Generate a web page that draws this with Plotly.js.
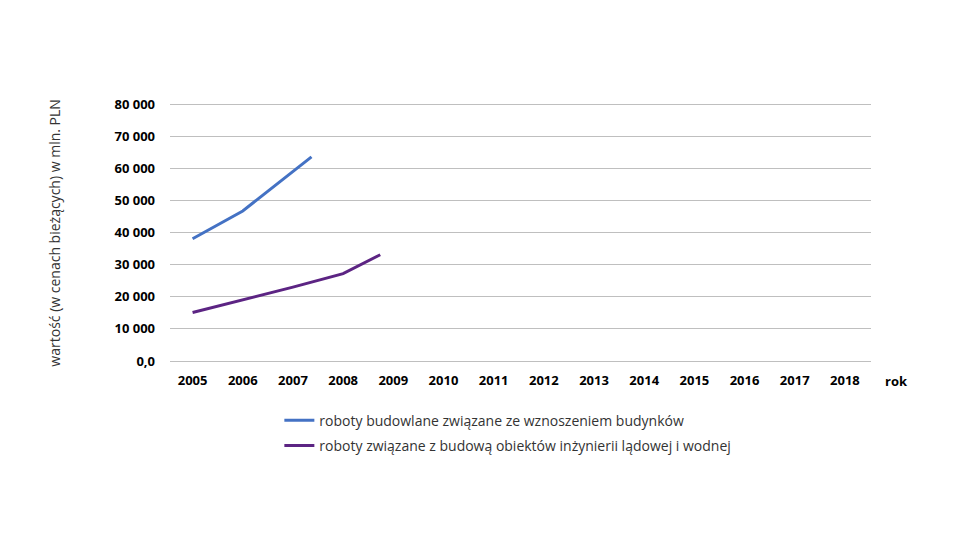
<!DOCTYPE html>
<html>
<head>
<meta charset="utf-8">
<script src="https://cdn.plot.ly/plotly-3.0.1.min.js"></script>
<style>html,body{margin:0;padding:0;background:#fff;}#chart{width:960px;height:540px;}</style>
</head>
<body>
<div id="chart"></div>
<script>
const years = [2005, 2006, 2007, 2008, 2009, 2010, 2011, 2012, 2013, 2014, 2015, 2016, 2017, 2018];
const yearLabels = years.map(String);
const yTickVals = [0, 10000, 20000, 30000, 40000, 50000, 60000, 70000, 80000];
const yTickText = ["0,0", "10 000", "20 000", "30 000", "40 000", "50 000", "60 000", "70 000", "80 000"];

const buildingsX = [2005, 2006, 2007.37];
const buildingsY = [38100, 46750, 63600];
const civilX = [2005, 2006, 2007, 2008, 2008.74];
const civilY = [15100, 19000, 23000, 27200, 33100];

const seriesNames = [
  "roboty budowlane związane ze wznoszeniem budynków",
  "roboty związane z budową obiektów inżynierii lądowej i wodnej"
];
const yTitle = "wartość (w cenach bieżących) w mln. PLN";
const xTitle = "rok";

const traces = [
  {x: buildingsX, y: buildingsY, name: seriesNames[0], type: "scatter", mode: "lines",
   legendgroup: "a", line: {color: "#4472c4", width: 3}},
  {x: civilX, y: civilY, name: seriesNames[1], type: "scatter", mode: "lines",
   legendgroup: "b", line: {color: "#5c2483", width: 3}}
];

const layout = {
  width: 960, height: 540,
  paper_bgcolor: "#fff", plot_bgcolor: "#fff",
  margin: {l: 170, r: 89, t: 101, b: 179},
  font: {family: "Open Sans, sans-serif", color: "#000"},
  showlegend: true,
  legend: {x: 0.156, y: -0.168, xanchor: "left", yanchor: "top",
           traceorder: "grouped", tracegroupgap: 4,
           font: {size: 14, color: "#333", family: "Open Sans, sans-serif"},
           bgcolor: "rgba(0,0,0,0)"},
  xaxis: {type: "linear", range: [2004.55, 2018.52], tickvals: years, ticktext: yearLabels,
          showgrid: false, zeroline: false, showline: true, linecolor: "#bfbfbf", linewidth: 1,
          ticks: "", ticklabelstandoff: 7,
          tickfont: {size: 13, family: "Open Sans, sans-serif", weight: "bold", color: "#000"}},
  yaxis: {range: [0, 81000], tickvals: yTickVals, ticktext: yTickText,
          showgrid: true, gridcolor: "#bfbfbf", gridwidth: 1, zeroline: false, showline: false,
          ticks: "", ticklabelstandoff: 14,
          tickfont: {size: 13, family: "Open Sans, sans-serif", weight: "bold", color: "#000"}},
  annotations: [
    {text: yTitle, xref: "paper", yref: "paper", x: -0.164, y: 0.49, textangle: -90,
     xanchor: "center", yanchor: "middle",
     showarrow: false, font: {size: 14, color: "#333", family: "Open Sans, sans-serif"}},
    {text: "<b>" + xTitle + "</b>", xref: "paper", yref: "paper", x: 1.036, y: -0.077,
     xanchor: "center", yanchor: "middle",
     showarrow: false, font: {size: 13, color: "#000", family: "Open Sans, sans-serif"}}
  ]
};

Plotly.newPlot("chart", traces, layout, {displayModeBar: false, responsive: false});
</script>
</body>
</html>
